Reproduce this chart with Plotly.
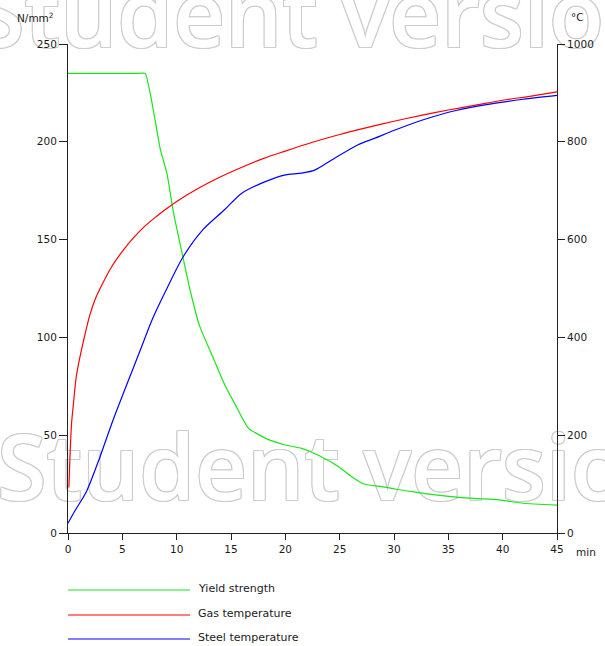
import plotly.graph_objects as go

# ---- data ----
t_yield = [0, 6.6, 7.1, 8.5, 9.1, 9.7, 10.5, 11.2, 12.1, 13.4, 14.4, 15.4, 16.6, 18.2, 20.0,
           21.5, 23.0, 24.9, 26.1, 27.3, 28.9, 30.1, 32.1, 34.8, 37.3, 39.7, 41.9, 45]
yield_strength = [235, 235, 235, 196, 184, 164, 143, 125, 106, 89, 76, 65.5, 53.6, 48.4, 45,
                  43.3, 39.9, 33.9, 28.8, 24.9, 23.7, 22.5, 20.8, 18.9, 17.7, 16.9, 15.2, 14.3]

t_gas = [0.08, 0.17, 0.33, 0.5, 0.75, 1, 1.5, 2, 2.5, 3, 4, 5, 6, 7, 8, 9, 10, 12, 14, 16,
         18, 20, 22.5, 25, 27.5, 30, 32.5, 35, 37.5, 40, 42.5, 45]
gas_temp = [93, 150, 225, 264, 318, 349, 400, 445, 478, 502, 544, 576, 603, 626, 645, 662,
            678, 705, 728, 748, 766, 781, 799, 815, 829, 842, 854, 865, 875, 885, 893, 902]

t_steel = [0, 0.6, 1.7, 2.9, 4.1, 5.4, 6.6, 7.8, 9.1, 10.6, 12.4, 14.4, 16.0, 18.1, 19.9,
           21.5, 22.7, 24.5, 26.7, 28.2, 30.1, 32.7, 35.7, 38.8, 41.9, 45]
steel_temp = [20, 44, 85, 153, 228, 303, 371, 439, 500, 565, 620, 661, 695, 718, 732,
              736, 742, 766, 794, 807, 824, 845, 864, 877, 887, 895]

x_ticks = [0, 5, 10, 15, 20, 25, 30, 35, 40, 45]
y_ticks = [0, 50, 100, 150, 200, 250]
y2_ticks = [0, 200, 400, 600, 800, 1000]

series_names = ["Yield strength", "Gas temperature", "Steel temperature"]
series_colors = ["#19e619", "#ff0000", "#0000ff"]

watermark = "Student version"

# ---- figure ----
W, H = 605, 646
L, R, T, B = 68, 48, 44, 113
pw, ph = W - L - R, H - T - B
X_PER_PX = 45 / pw
Y_PER_PX = 250 / ph

def px_x(px):  # pixel -> paper x
    return (px - L) / pw

def px_y(py):  # pixel -> paper y
    return (H - B - py) / ph

fig = go.Figure()

# watermark: grey copies offset by one pixel, then a white copy on top -> outlined text
wm_x = [(318 - L) * X_PER_PX, (340 - L) * X_PER_PX]     # text centres
wm_y = [(H - B - 69.5) * Y_PER_PX, (H - B - 522.5) * Y_PER_PX]  # anchors below baselines
wm_font = dict(family="Open Sans", size=90, weight=600)
offsets = [(1, 0), (-1, 0), (0, 1), (0, -1), (1, 1), (-1, -1), (1, -1), (-1, 1), (0, 0)]
for dx, dy in offsets:
    col = "white" if (dx, dy) == (0, 0) else "#cdcdcd"
    fig.add_trace(go.Scatter(
        x=[v + dx * X_PER_PX for v in wm_x], y=[v + dy * Y_PER_PX for v in wm_y],
        mode="text", text=[watermark, watermark], textposition="top center",
        cliponaxis=False, hoverinfo="skip", showlegend=False,
        textfont=dict(color=col, **wm_font),
    ))

fig.add_trace(go.Scatter(x=t_yield, y=yield_strength, mode="lines", name=series_names[0],
                         line=dict(color=series_colors[0], width=1.2, shape="spline",
                                   smoothing=0.5), yaxis="y"))
fig.add_trace(go.Scatter(x=t_gas, y=gas_temp, mode="lines", name=series_names[1],
                         line=dict(color=series_colors[1], width=1.2, shape="spline",
                                   smoothing=0.8), yaxis="y2"))
fig.add_trace(go.Scatter(x=t_steel, y=steel_temp, mode="lines", name=series_names[2],
                         line=dict(color=series_colors[2], width=1.2, shape="spline",
                                   smoothing=0.8), yaxis="y2"))

axis_font = dict(family="DejaVu Sans", size=10.5, color="#1a1a1a")
common = dict(showgrid=False, zeroline=False, showline=True, linecolor="#222",
              linewidth=1, ticks="outside", tickcolor="#222", tickfont=axis_font)

fig.update_layout(
    width=W, height=H, margin=dict(l=L, r=R, t=T, b=B),
    paper_bgcolor="white", plot_bgcolor="white", showlegend=False,
    xaxis=dict(range=[0, 45], tickvals=x_ticks, ticklen=6, **common),
    yaxis=dict(range=[0, 250], tickvals=y_ticks, ticklen=8, **common),
    yaxis2=dict(range=[0, 1000], tickvals=y2_ticks, ticklen=7, overlaying="y",
                side="right", **common),
)

ann_font = dict(family="DejaVu Sans", size=10.5, color="#1a1a1a")
fig.add_annotation(text="N/mm<sup>2</sup>", x=px_x(56), y=px_y(17), xref="paper", yref="paper",
                   xanchor="right", yanchor="middle", showarrow=False, font=ann_font)
fig.add_annotation(text="°C", x=px_x(569), y=px_y(17), xref="paper", yref="paper",
                   xanchor="left", yanchor="middle", showarrow=False, font=ann_font)
fig.add_annotation(text="min", x=px_x(574), y=px_y(552), xref="paper", yref="paper",
                   xanchor="left", yanchor="middle", showarrow=False, font=ann_font)

# manual legend
leg_y = [590, 615, 639]
for name, color, ly in zip(series_names, series_colors, leg_y):
    fig.add_shape(type="line", xref="paper", yref="paper", x0=px_x(68), x1=px_x(190),
                  y0=px_y(ly), y1=px_y(ly), line=dict(color=color, width=1.2))
    fig.add_annotation(text=name, x=px_x(196), y=px_y(ly - 2), xref="paper", yref="paper",
                       xanchor="left", yanchor="middle", showarrow=False,
                       font=dict(family="DejaVu Sans", size=11, color="#1a1a1a"))

fig.write_html("out.html")
